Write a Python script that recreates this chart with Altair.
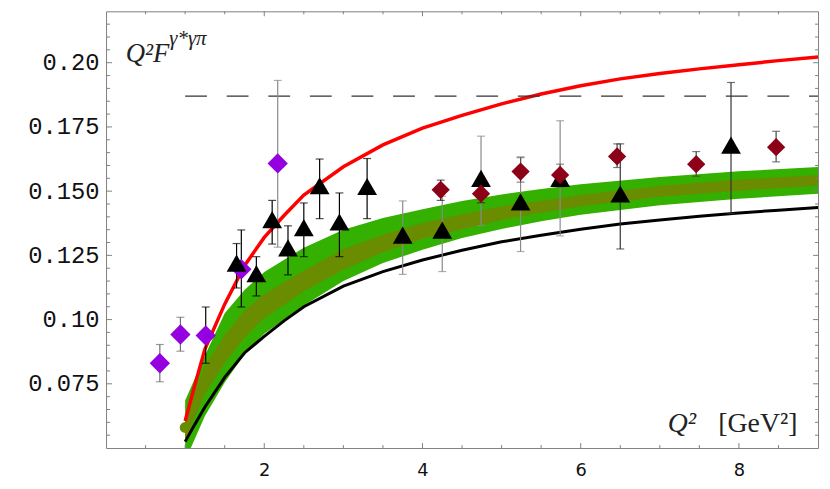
import altair as alt
import pandas as pd

# ---------------- data ----------------
# theory band (outer green, inner olive)
band_x   = [1.0, 1.25, 1.5, 1.75, 2.0, 2.5, 3.0, 3.5, 4.0, 4.5, 5.0, 5.5, 6.0, 7.0, 8.0, 9.0]
green_lo = [0.045, 0.0625, 0.0755, 0.0865, 0.0945, 0.1055, 0.1150, 0.1220, 0.1272, 0.1318, 0.1353, 0.1383, 0.1408, 0.1445, 0.1470, 0.1490]
olive_lo = [0.053, 0.0710, 0.0830, 0.0930, 0.1005, 0.1110, 0.1195, 0.1262, 0.1315, 0.1352, 0.1388, 0.1416, 0.1441, 0.1478, 0.1502, 0.1521]
olive_hi = [0.063, 0.0820, 0.0940, 0.1035, 0.1100, 0.1190, 0.1275, 0.1330, 0.1376, 0.1410, 0.1440, 0.1463, 0.1485, 0.1520, 0.1545, 0.1563]
green_hi = [0.0685, 0.0860, 0.1025, 0.1115, 0.1185, 0.1280, 0.1350, 0.1395, 0.1430, 0.1462, 0.1487, 0.1508, 0.1527, 0.1555, 0.1577, 0.1594]
olive_start = [1.0, 0.058]

# red curve
red_x = [1.0, 1.1, 1.25, 1.5, 1.75, 2.0, 2.25, 2.5, 3.0, 3.5, 4.0, 4.5, 5.0, 5.5, 6.0, 6.5, 7.0, 7.5, 8.0, 8.5, 9.0]
red_y = [0.0605, 0.072, 0.0885, 0.106, 0.121, 0.132, 0.1405, 0.1485, 0.1595, 0.168, 0.1745, 0.1795, 0.1840, 0.1878, 0.1910, 0.1937, 0.1958, 0.1976, 0.1992, 0.2008, 0.2022]

# black curve
blk_x = [1.0, 1.1, 1.25, 1.5, 1.75, 2.0, 2.25, 2.5, 3.0, 3.5, 4.0, 4.5, 5.0, 5.5, 6.0, 6.5, 7.0, 7.5, 8.0, 8.5, 9.0]
blk_y = [0.0525, 0.058, 0.066, 0.0775, 0.087, 0.0935, 0.0995, 0.1050, 0.1130, 0.1187, 0.1232, 0.1270, 0.1303, 0.1328, 0.1352, 0.1372, 0.1388, 0.1402, 0.1415, 0.1426, 0.1436]

# dashed asymptote
dash_x = [1.0, 9.0]
dash_y = [0.187, 0.187]

# triangles
tri_x  = [1.65, 1.90, 2.10, 2.30, 2.50, 2.70, 2.95, 3.30, 3.75, 4.25, 4.74, 5.24, 5.74, 6.50, 7.90]
tri_y  = [0.1220, 0.1179, 0.1389, 0.1279, 0.1358, 0.1521, 0.1380, 0.1518, 0.1329, 0.1348, 0.1550, 0.1458, 0.1550, 0.1489, 0.1679]
tri_lo = [0.1123, 0.1092, 0.1294, 0.1174, 0.1245, 0.1393, 0.1245, 0.1393, 0.1176, 0.1187, 0.1366, 0.1265, 0.1326, 0.1275, 0.1413]
tri_hi = [0.1296, 0.1245, 0.1464, 0.1365, 0.1454, 0.1625, 0.1493, 0.1627, 0.1462, 0.1480, 0.1714, 0.1630, 0.1774, 0.1684, 0.1923]
tri_ec = ["#000000"] * 8 + ["#8a8a8a"] * 5 + ["#333333"] * 2

# violet diamonds
vio_x  = [0.68, 0.94, 1.26, 1.71, 2.17]
vio_y  = [0.0830, 0.0942, 0.0938, 0.1196, 0.1608]
vio_lo = [0.0758, 0.0877, 0.0830, 0.1049, 0.1282]
vio_hi = [0.0903, 0.1009, 0.1049, 0.1349, 0.1931]
vio_ec = ["#707070", "#707070", "#000000", "#000000", "#8a8a8a"]

# dark red diamonds
dr_x  = [4.23, 4.74, 5.24, 5.74, 6.46, 7.46, 8.47]
dr_y  = [0.1505, 0.1490, 0.1576, 0.1563, 0.1635, 0.1605, 0.1671]
dr_lo = [0.1464, 0.1455, 0.1535, 0.1516, 0.1592, 0.1558, 0.1614]
dr_hi = [0.1543, 0.1530, 0.1633, 0.1605, 0.1684, 0.1654, 0.1733]
dr_ec = ["#222222", "#222222", "#555555", "#555555", "#444444", "#444444", "#444444"]

# axis ticks / labels
x_label_vals = [2, 4, 6, 8]
x_minor = [0.5, 1, 1.5, 2.5, 3, 3.5, 4.5, 5, 5.5, 6.5, 7, 7.5, 8.5]
y_label_vals = [0.075, 0.1, 0.125, 0.15, 0.175, 0.2]
y_minor = [0.055, 0.06, 0.065, 0.07, 0.08, 0.085, 0.09, 0.095, 0.105, 0.11, 0.115, 0.12,
           0.13, 0.135, 0.14, 0.145, 0.155, 0.16, 0.165, 0.17, 0.18, 0.185, 0.19, 0.195,
           0.205, 0.21, 0.215]

# annotations (text, x, y)
title_main = ["Q²F", 0.25, 0.2003]
title_sup = ["γ*γπ", 0.80, 0.2070]
xlab_q = ["Q²", 7.10, 0.0562]
xlab_u = ["[GeV²]", 7.74, 0.0562]

# ---------------- chart ----------------
W, H = 719, 441
FRAME = "#808080"
xs = alt.Scale(domain=[0, 9], nice=False, zero=False)
ys = alt.Scale(domain=[0.05, 0.22], nice=False, zero=False)
x_axis = alt.Axis(values=x_label_vals, title=None, grid=False, domain=False, ticks=False,
                  labelFont="DejaVu Sans", labelFontSize=18, labelColor="#111111",
                  labelPadding=14, labelFlush=False)
y_axis = alt.Axis(values=y_label_vals, title=None, grid=False, domain=False, ticks=False,
                  labelFont="Liberation Mono", labelFontSize=24, labelColor="#111111",
                  labelPadding=7,
                  labelExpr="abs(datum.value-0.1)<0.0001 ? '0.10' : abs(datum.value-0.2)<0.0001 ? '0.20' : format(datum.value, '.3f')")


def X(f):
    return alt.X(f, type="quantitative", scale=xs, axis=x_axis)


def Y(f):
    return alt.Y(f, type="quantitative", scale=ys, axis=y_axis)


band = pd.DataFrame({"x": band_x, "glo": green_lo, "ghi": green_hi, "olo": olive_lo, "ohi": olive_hi})
green = alt.Chart(band).mark_area(color="#33b000", clip=True).encode(x=X("x"), y=Y("glo"), y2="ghi")
olive = alt.Chart(band).mark_area(color="#6a8c00", clip=True).encode(x=X("x"), y=Y("olo"), y2="ohi")
cap = alt.Chart(pd.DataFrame({"x": [olive_start[0]], "y": [olive_start[1]]})).mark_circle(
    color="#6a8c00", opacity=1, size=120).encode(x=X("x"), y=Y("y"))

blk = alt.Chart(pd.DataFrame({"x": blk_x, "y": blk_y})).mark_line(color="#000000", strokeWidth=3, clip=True).encode(x=X("x"), y=Y("y"))
red = alt.Chart(pd.DataFrame({"x": red_x, "y": red_y})).mark_line(color="#ff0000", strokeWidth=3.5, clip=True).encode(x=X("x"), y=Y("y"))
dash = alt.Chart(pd.DataFrame({"x": dash_x, "y": dash_y})).mark_line(
    color="#333333", strokeWidth=1.4, strokeDash=[22, 20]).encode(x=X("x"), y=Y("y"))

err = pd.DataFrame({
    "x": tri_x + vio_x + dr_x,
    "lo": tri_lo + vio_lo + dr_lo,
    "hi": tri_hi + vio_hi + dr_hi,
    "c": tri_ec + vio_ec + dr_ec,
})
col = alt.Color("c:N", scale=None, legend=None)
bars = alt.Chart(err).mark_rule(strokeWidth=1.2).encode(x=X("x"), y=Y("lo"), y2="hi", color=col)
cap_lo = alt.Chart(err).mark_tick(orient="horizontal", size=8, thickness=1.2).encode(x=X("x"), y=Y("lo"), color=col)
cap_hi = alt.Chart(err).mark_tick(orient="horizontal", size=8, thickness=1.2).encode(x=X("x"), y=Y("hi"), color=col)

vio = alt.Chart(pd.DataFrame({"x": vio_x, "y": vio_y})).mark_point(
    shape="diamond", filled=True, size=420, color="#9400e0", opacity=1).encode(x=X("x"), y=Y("y"))
tri = alt.Chart(pd.DataFrame({"x": tri_x, "y": tri_y})).mark_point(
    shape="triangle-up", filled=True, size=400, color="#000000", opacity=1).encode(x=X("x"), y=Y("y"))
dr = alt.Chart(pd.DataFrame({"x": dr_x, "y": dr_y})).mark_point(
    shape="diamond", filled=True, size=340, color="#8c0018", opacity=1).encode(x=X("x"), y=Y("y"))

# inward ticks on all four sides
xmaj = pd.DataFrame({"x": x_label_vals})
xmin = pd.DataFrame({"x": x_minor})
ymaj = pd.DataFrame({"y": y_label_vals})
ymin = pd.DataFrame({"y": y_minor})
ticks = [
    alt.Chart(xmaj).mark_rule(color=FRAME).encode(x=X("x"), y=alt.value(H), y2=alt.value(H - 5)),
    alt.Chart(xmin).mark_rule(color=FRAME).encode(x=X("x"), y=alt.value(H), y2=alt.value(H - 3)),
    alt.Chart(xmaj).mark_rule(color=FRAME).encode(x=X("x"), y=alt.value(0), y2=alt.value(5)),
    alt.Chart(xmin).mark_rule(color=FRAME).encode(x=X("x"), y=alt.value(0), y2=alt.value(3)),
    alt.Chart(ymaj).mark_rule(color=FRAME).encode(y=Y("y"), x=alt.value(0), x2=alt.value(6)),
    alt.Chart(ymin).mark_rule(color=FRAME).encode(y=Y("y"), x=alt.value(0), x2=alt.value(4)),
    alt.Chart(ymaj).mark_rule(color=FRAME).encode(y=Y("y"), x=alt.value(W), x2=alt.value(W - 5)),
    alt.Chart(ymin).mark_rule(color=FRAME).encode(y=Y("y"), x=alt.value(W), x2=alt.value(W - 3)),
]


def label(item, size, italic):
    df = pd.DataFrame({"t": [item[0]], "x": [item[1]], "y": [item[2]]})
    return alt.Chart(df).mark_text(
        font="Liberation Serif", fontSize=size, fontStyle="italic" if italic else "normal",
        align="left", baseline="alphabetic", color="#222222").encode(x=X("x"), y=Y("y"), text="t:N")


texts = [label(title_main, 27, True), label(title_sup, 21, True),
         label(xlab_q, 28, True), label(xlab_u, 28, False)]

chart = alt.layer(
    green, olive, cap, blk, red, dash, bars, cap_lo, cap_hi, vio, tri, dr, *ticks, *texts
).properties(
    width=W, height=H,
    autosize=alt.AutoSizeParams(type="none"),
    padding={"left": 99, "top": 1, "right": 4, "bottom": 38},
).configure_view(stroke=FRAME, strokeWidth=1)

chart.save("out.html", embed_options={"renderer": "svg", "actions": False})
